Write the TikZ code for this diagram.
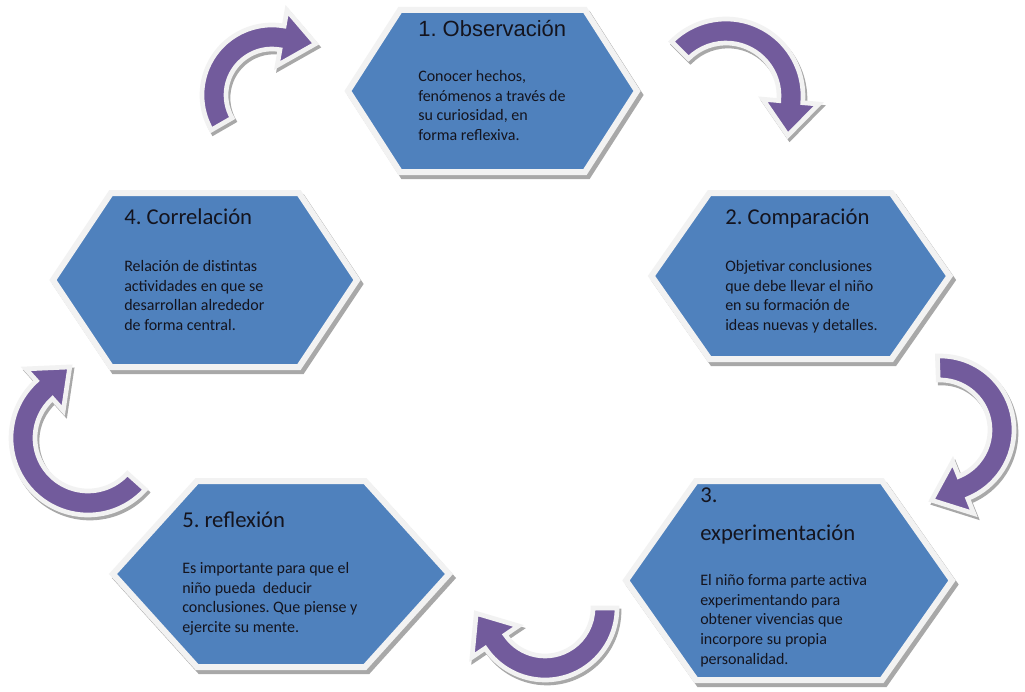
\documentclass[tikz,border=0pt]{standalone}
\usepackage{fontspec}
\setmainfont{Carlito}
\newfontfamily\arialfont{Liberation Sans}
\usetikzlibrary{calc}
\frenchspacing

\definecolor{hexblue}{RGB}{79,129,189}
\definecolor{arrowpurple}{RGB}{114,91,156}
\definecolor{rimwhite}{RGB}{242,242,242}
\definecolor{rimshadow}{RGB}{168,168,168}
\definecolor{textdark}{RGB}{20,20,30}

\tikzset{
  hexface/.style={draw=rimwhite, line width=4.5pt, fill=hexblue, line join=miter},
  hexshadow/.style={draw=rimshadow, line width=4.5pt, fill=rimshadow, line join=miter},
  arrowface/.style={draw=rimwhite, line width=3.5pt, fill=arrowpurple, line join=miter},
  arrowshadow/.style={draw=rimshadow, line width=3.5pt, fill=rimshadow, line join=miter},
  titletext/.style={anchor=base west, inner sep=0pt, text=textdark, font={\fontsize{17}{20}\selectfont}},
  bodytext/.style={anchor=north west, inner sep=0pt, align=left, text=textdark, font={\fontsize{12}{14.8}\selectfont}},
}

% hexagon outline: cx, cy, half width, half height, inset
\newcommand{\hexpath}[5]{({#1-#3},{#2}) -- ({#1-#3+#5},{#2-#4}) -- ({#1+#3-#5},{#2-#4}) -- ({#1+#3},{#2}) -- ({#1+#3-#5},{#2+#4}) -- ({#1-#3+#5},{#2+#4}) -- cycle}
\newcommand{\hexshape}[5]{%
  \draw[hexshadow, shift={(3,4)}] \hexpath{#1}{#2}{#3}{#4}{#5};
  \draw[hexface] \hexpath{#1}{#2}{#3}{#4}{#5};
}

% curved arrow band: cx, cy, radius, start angle, end angle
\def\bandhalf{12}
\def\headhalf{28}
\def\headlen{34}
\newcommand{\arrowpath}[4]{({#1+\arOut*cos(#3)},{#2+\arOut*sin(#3)}) arc[start angle=#3, end angle=#4, radius=\arOut] -- ({#1+\arHOut*cos(#4)},{#2+\arHOut*sin(#4)}) -- (\arTipX,\arTipY) -- ({#1+\arHIn*cos(#4)},{#2+\arHIn*sin(#4)}) -- ({#1+\arIn*cos(#4)},{#2+\arIn*sin(#4)}) arc[start angle=#4, end angle=#3, radius=\arIn] -- cycle}
\newcommand{\cyclearrow}[5]{%
  \pgfmathsetmacro{\arOut}{#3+\bandhalf}
  \pgfmathsetmacro{\arIn}{#3-\bandhalf}
  \pgfmathsetmacro{\arHOut}{#3+\headhalf}
  \pgfmathsetmacro{\arHIn}{#3-\headhalf}
  \pgfmathsetmacro{\arTipX}{#1+#3*cos(#5)+\headlen*cos(#5+90)}
  \pgfmathsetmacro{\arTipY}{#2+#3*sin(#5)+\headlen*sin(#5+90)}
  \draw[arrowshadow, shift={(2,3)}] \arrowpath{#1}{#2}{#4}{#5};
  \draw[arrowface] \arrowpath{#1}{#2}{#4}{#5};
}

\begin{document}
\begin{tikzpicture}[x=0.75pt,y=0.75pt,yscale=-1,xscale=1]
\path[fill=white, use as bounding box] (0,0) rectangle (1025,692);

%Curved Arrows
\cyclearrow{726}{96}{65}{225}{365}
\cyclearrow{940}{430}{62}{-92}{68}
\cyclearrow{545}{608}{60}{0}{146}
\cyclearrow{88}{438}{65}{42}{228}
\cyclearrow{272}{95}{58}{150}{280}

%Shape: Hexagons
\hexshape{492.5}{91}{144.5}{81}{52}
\hexshape{800.5}{276}{149}{83}{58}
\hexshape{789}{580.5}{163}{99.5}{70}
\hexshape{205}{280}{152}{87}{58}
\hexshape{281}{574}{168}{93}{84}

% Text Node
\node[titletext, font={\arialfont\fontsize{16.5}{20}\selectfont}] (obs title) at (418,37) {1. Observación};
% Text Node
\node[bodytext] (obs text) at (418,70) {Conocer hechos,\\fenómenos a través de\\su curiosidad, en\\forma reflexiva.};
% Text Node
\node[titletext] (comp title) at (725,224) {2. Comparación};
% Text Node
\node[bodytext] (comp text) at (725,260) {Objetivar conclusiones\\que debe llevar el niño\\en su formación de\\ideas nuevas y detalles.};
% Text Node
\node[titletext, anchor=north west, align=left, font={\fontsize{17}{28.5}\selectfont}] (exp title) at (700,488) {3.\\experimentación};
% Text Node
\node[bodytext] (exp text) at (700,574) {El niño forma parte activa\\experimentando para\\obtener vivencias que\\incorpore su propia\\personalidad.};
% Text Node
\node[titletext] (corr title) at (124,224) {4. Correlación};
% Text Node
\node[bodytext] (corr text) at (124,260) {Relación de distintas\\actividades en que se\\desarrollan alrededor\\de forma central.};
% Text Node
\node[titletext] (refl title) at (182,527) {5. reflexión};
% Text Node
\node[bodytext] (refl text) at (182,562) {Es importante para que el\\niño pueda\ \ deducir\\conclusiones. Que piense y\\ejercite su mente.};

\end{tikzpicture}
\end{document}
